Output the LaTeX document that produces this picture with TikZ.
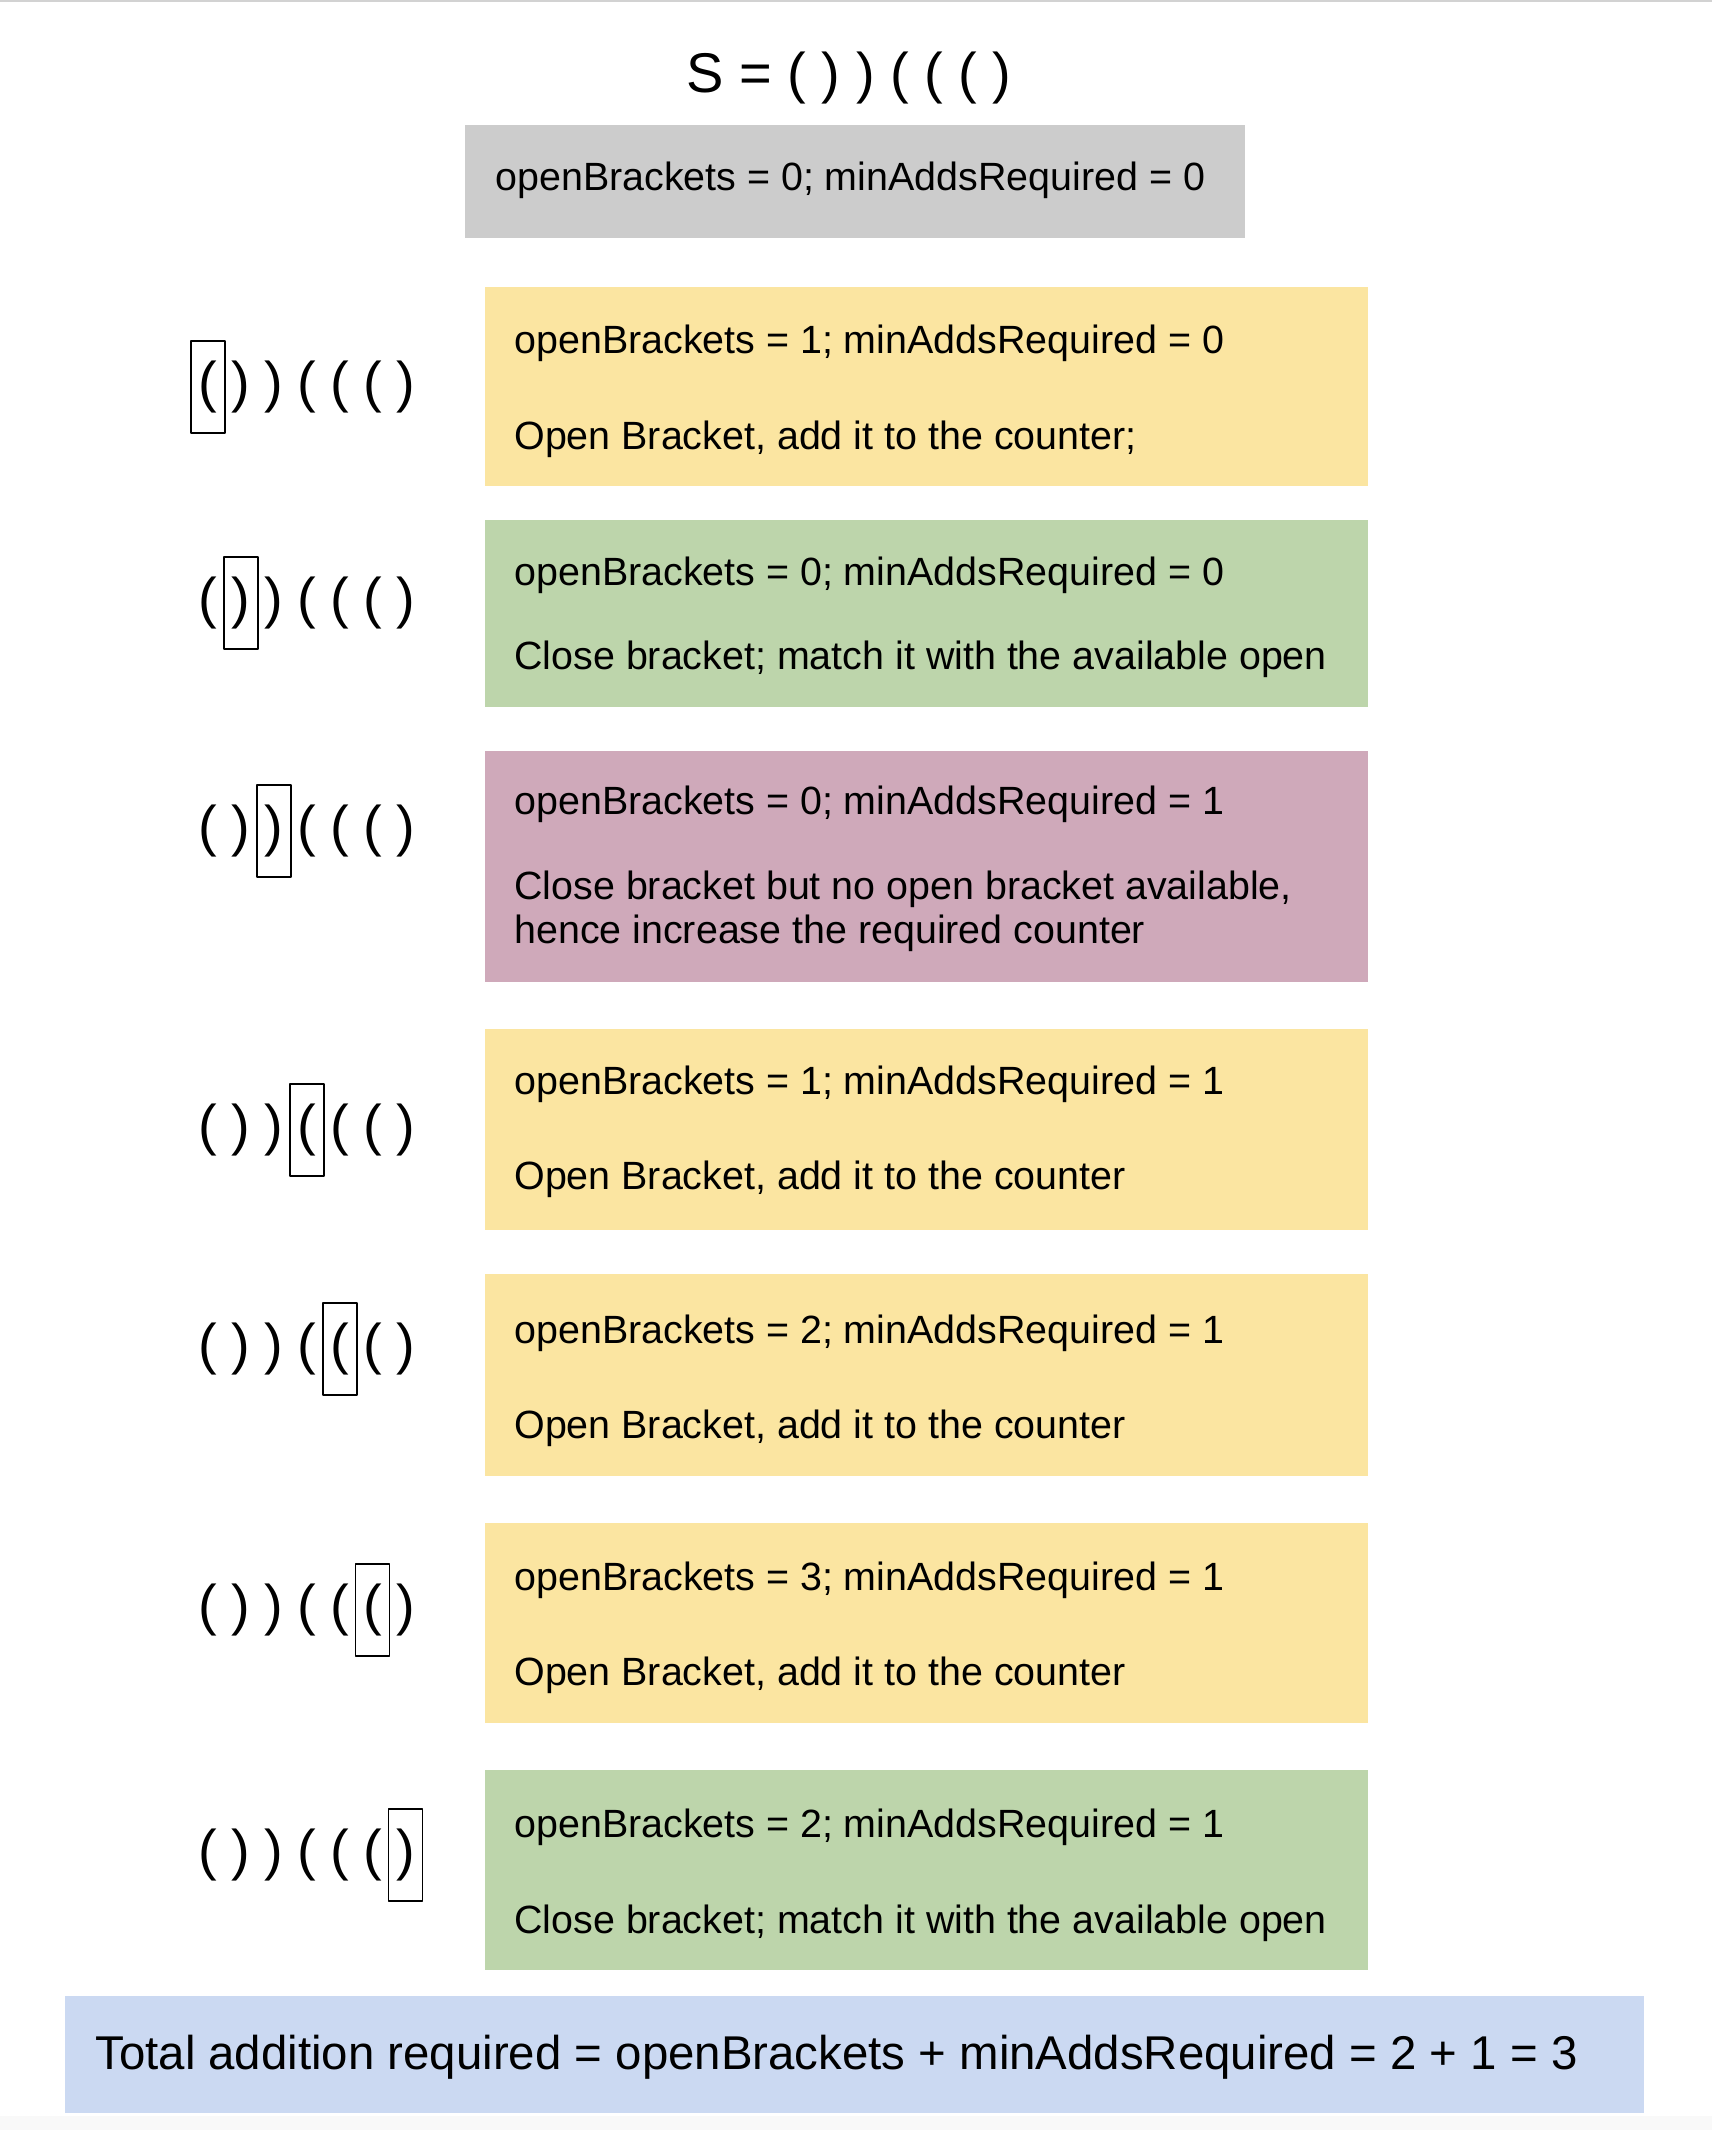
\documentclass[tikz,border=0pt]{standalone}
\usepackage{fontspec}
\setmainfont{Liberation Sans}
\definecolor{grayfill}{HTML}{CCCCCC}
\definecolor{yelfill}{HTML}{FBE5A1}
\definecolor{grnfill}{HTML}{BDD5AB}
\definecolor{pinkfill}{HTML}{CFA9BA}
\definecolor{bluefill}{HTML}{CBD9F2}
\tikzset{
  txt/.style={font=\fontsize{19.7}{21.7}\selectfont, anchor=base west, inner sep=0pt, align=left},
  br/.style={font=\fontsize{28}{28}\selectfont, inner sep=0pt},
  hlbox/.style={draw, line width=0.9pt, minimum width=17pt, minimum height=46pt, inner sep=0pt}
}
\begin{document}
\begin{tikzpicture}[x=0.5pt, y=-0.5pt, line join=round]
\useasboundingbox (0,0) rectangle (1712,2130);
\fill[gray!5] (0,2116) rectangle (1712,2130);
\draw[gray!35, line width=1pt] (0,1)--(1712,1);
% string and start values
\node[br, anchor=base] (title) at (849,93) {S = ( ) ) ( ( ( )};
\fill[grayfill] (465,125) rectangle (1245,238);
\node[txt] (init) at (495,191) {openBrackets = 0; minAddsRequired = 0};
% one row per bracket (second text: baseline of its last line)
\foreach \k/\r/\t/\b/\c/\ya/\yb/\sa/\sb in {
  1/387/287/486/yelfill/353/449/{openBrackets = 1; minAddsRequired = 0}/{Open Bracket, add it to the counter;},
  2/603/520/707/grnfill/585/669/{openBrackets = 0; minAddsRequired = 0}/{Close bracket; match it with the available open},
  3/831/751/982/pinkfill/814/943/{openBrackets = 0; minAddsRequired = 1}/{Close bracket but no open bracket available,\\hence increase the required counter},
  4/1130/1029/1230/yelfill/1094/1189/{openBrackets = 1; minAddsRequired = 1}/{Open Bracket, add it to the counter},
  5/1349/1274/1476/yelfill/1343/1438/{openBrackets = 2; minAddsRequired = 1}/{Open Bracket, add it to the counter},
  6/1610/1523/1723/yelfill/1590/1685/{openBrackets = 3; minAddsRequired = 1}/{Open Bracket, add it to the counter},
  7/1855/1770/1970/grnfill/1837/1933/{openBrackets = 2; minAddsRequired = 1}/{Close bracket; match it with the available open}}
{
  \foreach \p [count=\j] in {{(},{)},{)},{(},{(},{(},{)}}
    \node[br] (p\k\j) at ({208+32.9*(\j-1)},\r) {\p};
  \node[hlbox] (h\k) at (p\k\k) {};
  \fill[\c] (485,\t) rectangle (1368,\b);
  \node[txt] (s\k) at (514,\ya) {\sa};
  \node[txt] (d\k) at (514,\yb) {\sb};
}
% result
\fill[bluefill] (65,1996) rectangle (1644,2113);
\node[txt, font=\fontsize{23.7}{28}\selectfont] (total) at (95,2069) {Total addition required = openBrackets + minAddsRequired = 2 + 1 = 3};
\end{tikzpicture}
\end{document}
